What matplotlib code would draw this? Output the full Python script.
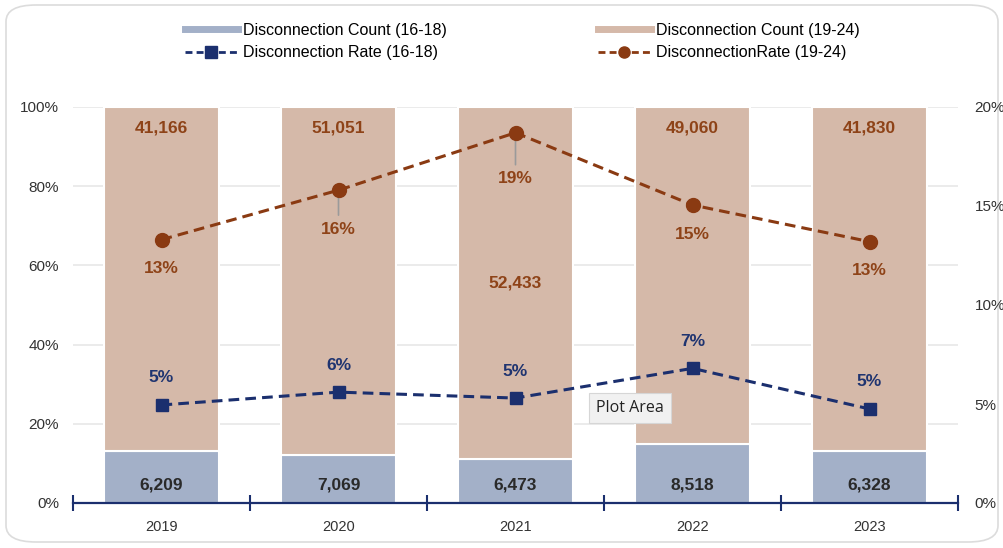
import matplotlib.pyplot as plt
import numpy as np
from matplotlib.lines import Line2D
from matplotlib.patches import FancyBboxPatch
from matplotlib.ticker import FixedLocator, FuncFormatter

years = ["2019", "2020", "2021", "2022", "2023"]
count_16_18 = [6209, 7069, 6473, 8518, 6328]
count_19_24 = [41166, 51051, 52433, 49060, 41830]
rate_16_18 = [0.0495, 0.056, 0.053, 0.068, 0.0475]
rate_19_24 = [0.133, 0.158, 0.187, 0.1505, 0.132]

# colours
BAR_YOUNG = "#a3b0c8"
BAR_OLD = "#d5b9a9"
LINE_YOUNG = "#1b2f6e"
LINE_OLD = "#8a3a12"
TXT_OLD = "#8e4318"
TXT_YOUNG = "#1f3470"

plt.rcParams["font.family"] = ["Liberation Sans", "DejaVu Sans"]

fig = plt.figure(figsize=(10.04, 5.48), dpi=100)
W, H = 1004, 548

# rounded frame round the whole chart
frame = FancyBboxPatch((6 / W, 6 / H), 992 / W, 537 / H,
                       boxstyle="round,pad=0,rounding_size=0.03",
                       transform=fig.transFigure, facecolor="none",
                       edgecolor="#dcdcdc", linewidth=1.2, zorder=-1)
fig.patches.append(frame)

ax = fig.add_axes([73 / W, 1 - 503 / H, 885 / W, 396 / H])
ax.patch.set_alpha(0)
x = np.arange(len(years))
young = np.array(count_16_18, dtype=float)
old = np.array(count_19_24, dtype=float)
total = young + old
share_young = young / total
share_old = old / total

width = 0.65
ax.bar(x, share_young, width, color=BAR_YOUNG, edgecolor="white", linewidth=1.5, zorder=2)
ax.bar(x, share_old, width, bottom=share_young, color=BAR_OLD, edgecolor="white",
       linewidth=1.5, zorder=2)

ax.set_xlim(-0.5, len(years) - 0.5)
ax.set_ylim(0, 1)
ax.set_yticks(np.arange(0, 1.01, 0.2))
ax.yaxis.set_major_formatter(FuncFormatter(lambda v, p: f"{v * 100:.0f}%"))
ax.grid(axis="y", color="#e8e8e8", linewidth=1.2, zorder=0)
ax.set_axisbelow(True)
for s in ["top", "left", "right"]:
    ax.spines[s].set_visible(False)
ax.spines["bottom"].set_color(LINE_YOUNG)
ax.spines["bottom"].set_linewidth(1.6)
ax.spines["bottom"].set_zorder(5)
ax.set_xticks(x)
ax.set_xticklabels(years)
ax.xaxis.set_minor_locator(FixedLocator(np.arange(-0.5, len(years), 1.0)))
ax.tick_params(axis="x", which="major", length=0, pad=12, labelsize=10.5, labelcolor="#333333")
ax.tick_params(axis="x", which="minor", length=12, direction="inout", color=LINE_YOUNG, width=1.5)
ax.tick_params(axis="y", length=0, pad=10, labelsize=11, labelcolor="#333333")

# count labels
for i in range(len(years)):
    ax.annotate(f"{count_16_18[i]:,}", (x[i], 0), xytext=(0, 18), textcoords="offset pixels",
                ha="center", va="center", fontsize=12.5, fontweight="bold", color="#2a2a2a", zorder=6)
    if i == 2:
        ax.annotate(f"{count_19_24[i]:,}", (x[i], share_young[i] + share_old[i] / 2),
                    ha="center", va="center", fontsize=12.5, fontweight="bold", color=TXT_OLD, zorder=6)
    else:
        ax.annotate(f"{count_19_24[i]:,}", (x[i], 1), xytext=(0, -21), textcoords="offset pixels",
                    ha="center", va="center", fontsize=12.5, fontweight="bold", color=TXT_OLD, zorder=6)

ax2 = ax.twinx()
ax2.set_ylim(0, 0.2)
ax2.set_yticks(np.arange(0, 0.201, 0.05))
ax2.yaxis.set_major_formatter(FuncFormatter(lambda v, p: f"{v * 100:.0f}%"))
ax2.tick_params(axis="y", length=0, pad=12, labelsize=11, labelcolor="#333333")
for s in ax2.spines.values():
    s.set_visible(False)

dash = (0, (3.5, 2))
ax2.plot(x, rate_16_18, color=LINE_YOUNG, linestyle=dash, linewidth=2.2,
         marker="s", markersize=9, zorder=4)
ax2.plot(x, rate_19_24, color=LINE_OLD, linestyle=dash, linewidth=2.2,
         marker="o", markersize=10, zorder=4)

for i in range(len(years)):
    ax2.annotate(f"{rate_16_18[i] * 100:.0f}%", (x[i], rate_16_18[i]), xytext=(0, 27),
                 textcoords="offset pixels", ha="center", va="center", fontsize=12.5,
                 fontweight="bold", color=TXT_YOUNG, zorder=6)
    drop = 29
    if i == 1:
        drop = 39
    if i == 2:
        drop = 46
    if i in (1, 2):
        ax2.annotate("", (x[i], rate_19_24[i]), xytext=(0, -(drop - 14)), textcoords="offset pixels",
                     arrowprops=dict(arrowstyle="-", color="#9a9a9a", lw=1.2, shrinkA=0, shrinkB=0),
                     zorder=3)
    ax2.annotate(f"{rate_19_24[i] * 100:.0f}%", (x[i], rate_19_24[i]), xytext=(0, -drop),
                 textcoords="offset pixels", ha="center", va="center", fontsize=12.5,
                 fontweight="bold", color=TXT_OLD, zorder=6)

# legend at the top, one block per age group
leg_kw = dict(loc="upper left", frameon=False, fontsize=11.5, handlelength=3.3,
              handletextpad=0.35, labelspacing=0.45, borderpad=0, borderaxespad=0)
left_handles = [Line2D([], [], color=BAR_YOUNG, linewidth=5),
                Line2D([], [], color=LINE_YOUNG, linestyle=(0, (2.5, 1.5)), linewidth=2,
                       marker="s", markersize=8)]
right_handles = [Line2D([], [], color=BAR_OLD, linewidth=5),
                 Line2D([], [], color=LINE_OLD, linestyle=(0, (2.5, 1.5)), linewidth=2,
                        marker="o", markersize=8)]
fig.legend(left_handles, ["Disconnection Count (16-18)", "Disconnection Rate (16-18)"],
           bbox_to_anchor=(185 / W, 1 - 23 / H), **leg_kw)
fig.legend(right_handles, ["Disconnection Count (19-24)", "DisconnectionRate (19-24)"],
           bbox_to_anchor=(598 / W, 1 - 23 / H), **leg_kw)

# hover tooltip
fig.text(630 / W, 1 - 408 / H, "Plot Area", ha="center", va="center", fontsize=11.5,
         family=["Open Sans", "DejaVu Sans"], color="#222222", zorder=10,
         bbox=dict(boxstyle="square,pad=0.45", facecolor="#f1f1f1", edgecolor="#d6d6d6", linewidth=0.8))

fig.savefig("out.png", dpi=100)
